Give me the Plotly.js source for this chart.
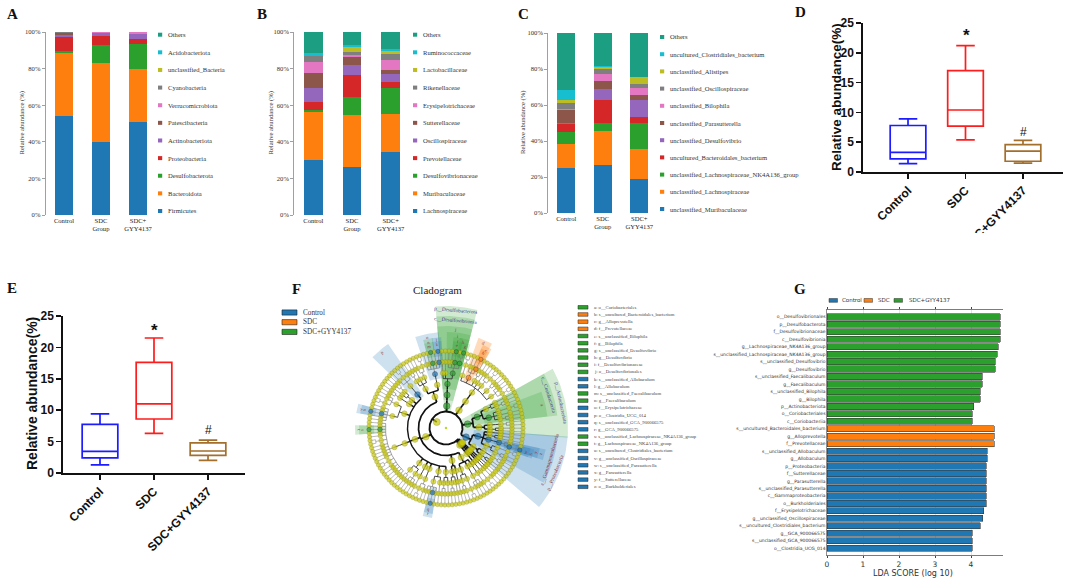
<!DOCTYPE html>
<html><head><meta charset="utf-8">
<script src="https://cdn.plot.ly/plotly-3.0.1.min.js"></script>
<style>html,body{margin:0;padding:0;background:#fff}#chart{width:1065px;height:578px}</style>
</head><body><div id="chart"></div><script>
const W=1065,H=578;
const px=x=>x/W, py=y=>1-y/H;
const serif='Liberation Serif, Times New Roman, serif';
const sans='Liberation Sans, Arial, sans-serif';
const dv='DejaVu Sans, sans-serif';

// ---------- Panels A-C : stacked relative abundance ----------
const groups=['Control','SDC Group','SDC+ GYY4137'];
const groupTicks=['Control','SDC<br>Group','SDC+<br>GYY4137'];
const pctTicks=[0,20,40,60,80,100];
const pctLabels=['0%','20%','40%','60%','80%','100%'];
const stackColors=['#1f77b4','#ff7f0e','#2ca02c','#d62728','#9467bd','#8c564b','#e377c2','#7f7f7f','#bcbd22','#17becf','#1b9e82'];

const phylumNames=['Firmicutes','Bacteroidota','Desulfobacterota','Proteobacteria','Actinobacteriota','Patescibacteria','Verrucomicrobiota','Cyanobacteria','unclassified_Bacteria','Acidobacteriota','Others'];
const phylumControl=[54.2,34.5,0.8,7.8,0.9,1.4,0.1,0.2,0.05,0.05,0.0];
const phylumSDC=[40.0,43.3,9.8,4.7,1.7,0.2,0.2,0.05,0.02,0.02,0.01];
const phylumGYY=[50.9,28.7,14.0,2.6,2.5,0.1,1.1,0.05,0.02,0.02,0.01];

const familyNames=['Lachnospiraceae','Muribaculaceae','Desulfovibrionaceae','Prevotellaceae','Oscillospiraceae','Sutterellaceae','Erysipelotrichaceae','Rikenellaceae','Lactobacillaceae','Ruminococcaceae','Others'];
const familyControl=[30.0,26.4,0.9,4.5,7.8,8.0,6.0,3.1,0.2,1.8,11.3];
const familySDC=[26.0,28.5,10.0,11.9,5.4,4.6,1.2,1.5,2.8,0.8,7.3];
const familyGYY=[34.2,20.9,14.4,3.2,4.2,2.6,5.0,3.3,1.8,0.9,9.5];

const speciesNames=['unclassified_Muribaculaceae','unclassified_Lachnospiraceae','unclassified_Lachnospiraceae_NK4A136_group','uncultured_Bacteroidales_bacterium','unclassified_Desulfovibrio','unclassified_Parasutterella','unclassified_Bilophila','unclassified_Oscillospiraceae','unclassified_Alistipes','uncultured_Clostridiales_bacterium','Others'];
const speciesControl=[25.0,13.5,6.5,4.4,0.6,7.4,0.6,3.0,2.0,5.5,31.5];
const speciesSDC=[26.5,19.2,4.3,13.0,5.9,4.6,3.7,2.8,1.1,0.4,18.5];
const speciesGYY=[19.1,16.5,14.4,3.3,9.7,2.4,4.0,2.5,3.5,0.3,24.3];

// ---------- Panels D-E : box plots ----------
const boxGroups=['Control','SDC','SDC+GYY4137'];
const boxColors=['#1c1cff','#ff1c1c','#a36f2d'];
const dMin=[1.4,5.4,1.5], dQ1=[2.2,7.7,1.8], dMed=[3.3,10.4,3.5], dQ3=[7.8,17.0,4.6], dMax=[8.9,21.2,5.3];
const eMin=[1.3,6.3,2.0], eQ1=[2.4,8.6,2.8], eMed=[3.45,11.0,3.5], eQ3=[7.75,17.6,4.8], eMax=[9.4,21.5,5.25];

// ---------- Panel G : LDA ----------
const ldaGroupNames=['Control','SDC','SDC+GYY4137'];
const ldaColors=['#1f77b4','#ff7f0e','#2ca02c'];
const ldaLabels=['o__Desulfovibrionales','p__Desulfobacterota','f__Desulfovibrionaceae','c__Desulfovibrionia','g__Lachnospiraceae_NK4A136_group','s__unclassified_Lachnospiraceae_NK4A136_group','s__unclassified_Desulfovibrio','g__Desulfovibrio','s__unclassified_Faecalibaculum','g__Faecalibaculum','s__unclassified_Bilophila','g__Bilophila','p__Actinobacteriota','o__Coriobacteriales','c__Coriobacteriia','s__uncultured_Bacteroidales_bacterium','g__Alloprevotella','f__Prevotellaceae','s__unclassified_Allobaculum','g__Allobaculum','p__Proteobacteria','f__Sutterellaceae','g__Parasutterella','s__unclassified_Parasutterella','c__Gammaproteobacteria','o__Burkholderiales','f__Erysipelotrichaceae','g__unclassified_Oscillospiraceae','s__uncultured_Clostridiales_bacterium','g__GCA_900066575','s__unclassified_GCA_900066575','o__Clostridia_UCG_014'];
const ldaScores=[4.81,4.81,4.81,4.81,4.75,4.73,4.68,4.68,4.31,4.31,4.25,4.25,4.07,4.03,4.03,4.64,4.64,4.64,4.45,4.45,4.43,4.42,4.42,4.42,4.42,4.43,4.35,4.33,4.26,4.03,4.03,4.03];
const ldaGroup=[2,2,2,2,2,2,2,2,2,2,2,2,2,2,2,1,1,1,0,0,0,0,0,0,0,0,0,0,0,0,0,0];

// ---------- Panel F : cladogram topology ----------
// phylum -> classes -> orders -> families -> genera (number = species count)
const cladoTree=[
  [ [ [[1],[1]], [[1,1]] ], [ [[1,1],[2]], [[1,1]], [[1],[1]], [[1]] ] ],               // Proteobacteria
  [ [ [[1],[1]], [[1,1]] ], [ [[1,1],[1],[2]], [[1,1],[1]] ] ],                          // Actinobacteriota
  [ [ [ [2,1,1],[1,1],[2,1],[1],[1,1],[1,1,1],[2] ] ] ],                                  // Bacteroidota
  [ [ [ [2,1,1,1],[1],[1] ] ] ],                                                          // Desulfobacterota
  [ [ [[1,1,1,1,1]], [[2,1],[1],[1,1]] ],                                                 // Firmicutes
    [ [[1,2,1]], [[1,1],[1]], [[1,1]], [[1,1,2],[1,1,1,1,1]],
      [[1,1,1,1,1,2,1,1,1,1,1,2,1,1,1,1,1]], [[1,1],[1,1,1]], [[1]], [[2,1]],
      [[1,1,1,1],[1]], [[1,1],[1]] ],
    [ [[1,1],[1]], [[1]] ],
    [ [[1,1],[2]], [[1,1,1]], [[1]] ] ],
  [ [ [[2]] ] ], [ [ [[1]] ] ], [ [ [[1]] ] ], [ [ [[1]] ] ]
];
const cladoMarks=[
 {path:[0],grp:0,text:'p__Proteobacteria'},{path:[0,1],grp:0,text:'c__Gammaproteobacteria'},
 {path:[0,1,1],grp:0,text:'z'},{path:[0,1,1,0],grp:0,text:'y'},{path:[0,1,1,0,0],grp:0,text:'x'},{path:[0,1,1,0,0,0],grp:0,text:'w'},
 {path:[1],grp:2,text:'p__Actinobacteriota'},{path:[1,1],grp:2,text:'c__Coriobacteriia'},{path:[1,1,0],grp:2,text:'a'},
 {path:[2,0,0,5],grp:1,text:'d'},{path:[2,0,0,5,0],grp:1,text:'c'},{path:[2,0,0,5,0,0],grp:1,text:'b'},
 {path:[3],grp:2,text:'p__Desulfobacterota'},{path:[3,0],grp:2,text:'c__Desulfovibrionia'},
 {path:[3,0,0],grp:2,text:'j'},{path:[3,0,0,0],grp:2,text:'i'},{path:[3,0,0,0,0],grp:2,text:'h'},{path:[3,0,0,0,0,0],grp:2,text:'g'},
 {path:[3,0,0,0,1],grp:2,text:'f'},{path:[3,0,0,0,1,0],grp:2,text:'e'},
 {path:[4,0,0,0],grp:0,text:'o'},{path:[4,0,0,0,0],grp:0,text:'l'},{path:[4,0,0,0,0,0],grp:0,text:'k'},
 {path:[4,0,0,0,2],grp:2,text:'n'},{path:[4,0,0,0,2,0],grp:2,text:'m'},
 {path:[4,1,0],grp:0,text:'p'},
 {path:[4,1,3,1,2],grp:0,text:'v'},{path:[4,1,3,1,2,0],grp:0,text:'u'},
 {path:[4,1,4,0,2],grp:2,text:'t'},{path:[4,1,4,0,2,0],grp:2,text:'s'},
 {path:[4,1,8,0,2],grp:0,text:'r'},{path:[4,1,8,0,2,0],grp:0,text:'q'}
];
const cladoLegend=['a: o__Coriobacteriales','b: s__uncultured_Bacteroidales_bacterium','c: g__Alloprevotella','d: f__Prevotellaceae','e: s__unclassified_Bilophila','f: g__Bilophila','g: s__unclassified_Desulfovibrio','h: g__Desulfovibrio','i: f__Desulfovibrionaceae','j: o__Desulfovibrionales','k: s__unclassified_Allobaculum','l: g__Allobaculum','m: s__unclassified_Faecalibaculum','n: g__Faecalibaculum','o: f__Erysipelotrichaceae','p: o__Clostridia_UCG_014','q: s__unclassified_GCA_900066575','r: g__GCA_900066575','s: s__unclassified_Lachnospiraceae_NK4A136_group','t: g__Lachnospiraceae_NK4A136_group','u: s__uncultured_Clostridiales_bacterium','v: g__unclassified_Oscillospiraceae','w: s__unclassified_Parasutterella','x: g__Parasutterella','y: f__Sutterellaceae','z: o__Burkholderiales'];
const cladoLegendGrp=[2,1,1,1,2,2,2,2,2,2,0,0,2,2,0,0,0,0,2,2,0,0,0,0,0,0];

// =================== build ===================
const traces=[], ann=[], shapes=[];
const layout={width:W,height:H,autosize:false,margin:{l:0,r:0,t:0,b:0},paper_bgcolor:'#fff',plot_bgcolor:'rgba(0,0,0,0)',
  showlegend:false,barmode:'stack',font:{family:serif,size:7,color:'#222'},annotations:ann,shapes:shapes};

function A(o){ann.push(Object.assign({xref:'paper',yref:'paper',showarrow:false},o));}
function txt(x,y,t,font,xa,extra){A(Object.assign({x:px(x),y:py(y),text:t,font:font,xanchor:xa||'left',yanchor:'middle'},extra||{}));}
function rect(x0,y0,x1,y1,fill,line,lw){shapes.push({type:'rect',xref:'paper',yref:'paper',x0:px(x0),x1:px(x1),y0:py(y1),y1:py(y0),fillcolor:fill,line:{color:line||fill,width:lw||0},layer:'above'});}

// stacked panels
const stackPanels=[
 {ax:'',names:phylumNames,vals:[phylumControl,phylumSDC,phylumGYY],xd:[45.5,156.5],yd:[32,215],legX:158,legY0:211,legDy:17.63,title:21},
 {ax:'2',names:familyNames,vals:[familyControl,familySDC,familyGYY],xd:[294,410],yd:[32,215],legX:413,legY0:211,legDy:17.63,title:270},
 {ax:'3',names:speciesNames,vals:[speciesControl,speciesSDC,speciesGYY],xd:[548,657.5],yd:[33,213],legX:660,legY0:209,legDy:17.2,title:523}
];
stackPanels.forEach(p=>{
  p.names.forEach((nm,k)=>{
    traces.push({type:'bar',xaxis:'x'+p.ax,yaxis:'y'+p.ax,x:groups,y:p.vals.map(v=>v[k]),width:0.49,
      marker:{color:stackColors[k],line:{width:0}},name:nm,hoverinfo:'skip'});
    const yy=p.legY0-k*p.legDy;
    rect(p.legX,yy-2,p.legX+4.2,yy+2,stackColors[k]);
    txt(p.legX+8,yy,nm,{family:serif,size:6.6,color:'#333'});
  });
  layout['xaxis'+p.ax]={domain:[px(p.xd[0]),px(p.xd[1])],anchor:'y'+p.ax,type:'category',categoryorder:'array',categoryarray:groups,
    tickvals:groups,ticktext:groupTicks,tickangle:0,showline:false,ticks:'',showgrid:false,zeroline:false,
    tickfont:{family:serif,size:6.6,color:'#222'},fixedrange:true};
  layout['yaxis'+p.ax]={domain:[py(p.yd[1]),py(p.yd[0])],anchor:'x'+p.ax,range:[0,100],tickmode:'array',tickvals:pctTicks,ticktext:pctLabels,
    showline:true,linecolor:'#888',linewidth:0.8,ticks:'outside',ticklen:3,tickcolor:'#888',tickwidth:0.8,showgrid:false,zeroline:false,
    tickfont:{family:serif,size:6.6,color:'#333'},fixedrange:true};
  txt(p.title,(p.yd[0]+p.yd[1])/2,'Relative abundance (%)',{family:serif,size:6.6,color:'#333'},'center',{textangle:-90});
});

// box panels
const boxPanels=[
 {ax:'4',mn:dMin,q1:dQ1,md:dMed,q3:dQ3,mx:dMax,xd:[863,1063],xr:[-0.783,2.696],yd:[23,172],w:0.62,title:[836,97],ts:13.5,star:[966,36],hash:[1023,132]},
 {ax:'5',mn:eMin,q1:eQ1,md:eMed,q3:eQ3,mx:eMax,xd:[63,245],xr:[-0.685,2.685],yd:[316,473],w:0.66,title:[32,394],ts:14,star:[154,330],hash:[208,430]}
];
boxPanels.forEach(p=>{
  boxGroups.forEach((g,i)=>traces.push({type:'box',xaxis:'x'+p.ax,yaxis:'y'+p.ax,x:[i],q1:[p.q1[i]],median:[p.md[i]],q3:[p.q3[i]],
    lowerfence:[p.mn[i]],upperfence:[p.mx[i]],width:p.w,whiskerwidth:0.52,line:{color:boxColors[i],width:1.7},
    fillcolor:'rgba(255,255,255,0)',boxpoints:false,hoverinfo:'skip',name:g}));
  const tf={family:sans,size:12,weight:'bold',color:'#111'};
  layout['xaxis'+p.ax]={domain:[px(p.xd[0]),px(p.xd[1])],anchor:'y'+p.ax,range:p.xr,tickvals:[0,1,2],ticktext:boxGroups,tickangle:-45,
    showline:true,linecolor:'#111',linewidth:1.7,ticks:'outside',ticklen:5,tickwidth:1.7,tickcolor:'#111',showgrid:false,zeroline:false,tickfont:tf,fixedrange:true};
  layout['yaxis'+p.ax]={domain:[py(p.yd[1]),py(p.yd[0])],anchor:'x'+p.ax,range:[0,25],tickvals:[0,5,10,15,20,25],
    showline:true,linecolor:'#111',linewidth:1.7,ticks:'outside',ticklen:5,tickwidth:1.7,tickcolor:'#111',showgrid:false,zeroline:false,tickfont:tf,fixedrange:true};
  txt(p.title[0],p.title[1],'Relative abundance(%)',{family:sans,size:p.ts,weight:'bold',color:'#111'},'center',{textangle:-90});
  txt(p.star[0],p.star[1],'*',{family:sans,size:17,weight:'bold',color:'#111'},'center');
  txt(p.hash[0],p.hash[1],'#',{family:sans,size:12,color:'#111'},'center');
});

// LDA panel G
ldaGroupNames.forEach((g,gi)=>{
  const ys=[],xs=[];
  ldaScores.forEach((s,i)=>{if(ldaGroup[i]===gi){ys.push(i);xs.push(s);}});
  traces.push({type:'bar',orientation:'h',xaxis:'x7',yaxis:'y7',x:xs,y:ys,width:0.84,
    marker:{color:ldaColors[gi],line:{color:'#3a3a3a',width:0.6}},hoverinfo:'skip',name:g});
});
layout.xaxis7={domain:[px(827),px(1003)],anchor:'y7',range:[0,4.889],tickvals:[0,1,2,3,4],showgrid:true,gridcolor:'#d0d0d0',gridwidth:0.6,
  showline:true,linecolor:'#444',linewidth:0.7,mirror:'ticks',ticks:'outside',ticklen:2,tickcolor:'#444',zeroline:false,
  tickfont:{family:dv,size:7.5,color:'#333'},fixedrange:true};
layout.yaxis7={domain:[py(555),py(310)],anchor:'x7',range:[31.92,-0.92],tickvals:ldaLabels.map((l,i)=>i),ticktext:ldaLabels,
  showline:true,linecolor:'#444',linewidth:0.6,ticks:'',showgrid:false,zeroline:false,tickfont:{family:dv,size:4.5,color:'#333'},fixedrange:true};
txt(913,573.5,'LDA SCORE (log 10)',{family:dv,size:8,color:'#333'},'center');
[[829,840,'Control'],[864,876,'SDC'],[894,907,'SDC+GYY4137']].forEach((l,i)=>{
  rect(l[0],298.5,l[0]+8.5,302.3,ldaColors[i],'#333',0.5);
  txt(l[1],300.4,l[2],{family:dv,size:5.5,color:'#333'});
});

// ---------- cladogram ----------
const deg=Math.PI/180;
const cx=(r,a)=>r*Math.cos(a*deg), cy=(r,a)=>r*Math.sin(a*deg);
let nLeaf=0; const allNodes=[]; const byPath={};
function build(spec,depth,path){
  const n={depth:depth,path:path,kids:[]};
  if(depth===6){n.leaf=nLeaf++;}
  else if(depth===5){for(let i=0;i<spec;i++)n.kids.push(build(null,6,path.concat(i)));}
  else spec.forEach((c,i)=>n.kids.push(build(c,depth+1,path.concat(i))));
  allNodes.push(n); byPath[path.join(',')]=n; return n;
}
const root=build(cladoTree,0,[]);
const stepA=360/nLeaf, startA=-40;
function place(n){
  if(n.depth===6){n.a=startA+(n.leaf+0.5)*stepA;n.l0=n.l1=n.leaf;}
  else{n.kids.forEach(place);n.a=(n.kids[0].a+n.kids[n.kids.length-1].a)/2;n.l0=n.kids[0].l0;n.l1=n.kids[n.kids.length-1].l1;}
}
place(root);
const Rd=d=>11*(d+1);
const ROUT=[0,122,112,102,96,91,87];
const grpFill=['rgba(31,119,180,0.22)','rgba(255,127,14,0.28)','rgba(44,160,44,0.22)'];
const grpNode=['#1f77b4','#ff7f0e','#2ca02c'];
const markOf={}; cladoMarks.forEach(m=>markOf[m.path.join(',')]=m);

// wedges
cladoMarks.slice().sort((a,b)=>a.path.length-b.path.length).forEach(m=>{
  const n=byPath[m.path.join(',')];
  let a0=startA+n.l0*stepA-0.3, a1=startA+(n.l1+1)*stepA+0.3;
  if(a1-a0<6){const c=(a0+a1)/2;a0=c-3;a1=c+3;}
  const rIn=Rd(n.depth)-5, rOut=ROUT[n.depth];
  const xs=[],ys=[];
  for(let a=a0;a<=a1+1e-6;a+=(a1-a0)/20){xs.push(cx(rIn,a));ys.push(cy(rIn,a));}
  for(let a=a1;a>=a0-1e-6;a-=(a1-a0)/20){xs.push(cx(rOut,a));ys.push(cy(rOut,a));}
  traces.push({type:'scatter',mode:'lines',xaxis:'x6',yaxis:'y6',x:xs,y:ys,fill:'toself',fillcolor:grpFill[m.grp],line:{width:0},hoverinfo:'skip'});
  const ac=(a0+a1)/2;
  let ta=90-ac; while(ta>90)ta-=180; while(ta<=-90)ta+=180;
  const named=m.text.length>1;
  const rr=named?rOut-4:rOut-3.5;
  const col=m.path[0]===0?'#8b2b3b':(named?'#3b3b8f':'#8b3a3a');
  ann.push({xref:'x6',yref:'y6',x:cx(rr,ac),y:cy(rr,ac),text:m.text,showarrow:false,textangle:ta,
    font:{family:serif,size:named?5.2:4.6,color:col},xanchor:'center',yanchor:'middle'});
});
// edges
const edgeSty=[{w:1.9,c:'#111'},{w:1.7,c:'#111'},{w:1.4,c:'#151515'},{w:0.9,c:'#333'},{w:0.6,c:'#666'},{w:0.5,c:'#777'}];
const eX=edgeSty.map(()=>[]), eY=edgeSty.map(()=>[]);
allNodes.forEach(n=>{
  if(!n.kids.length)return;
  const d=n.depth, r0=Rd(d), rm=r0+5.5, r1=Rd(d+1), X=eX[d], Y=eY[d];
  X.push(cx(r0,n.a),cx(rm,n.a),null); Y.push(cy(r0,n.a),cy(rm,n.a),null);
  const lo=Math.min(n.kids[0].a,n.a), hi=Math.max(n.kids[n.kids.length-1].a,n.a);
  if(hi-lo>0.01){for(let a=lo;a<hi;a+=1.5){X.push(cx(rm,a));Y.push(cy(rm,a));}X.push(cx(rm,hi),null);Y.push(cy(rm,hi),null);}
  n.kids.forEach(k=>{X.push(cx(rm,k.a),cx(r1,k.a),null);Y.push(cy(rm,k.a),cy(r1,k.a),null);});
});
edgeSty.forEach((s,d)=>traces.push({type:'scatter',mode:'lines',xaxis:'x6',yaxis:'y6',x:eX[d],y:eY[d],line:{color:s.c,width:s.w},hoverinfo:'skip'}));
// nodes
const nodeSize=[7,6.6,6.1,5.6,5.1,4.7,4.3];
const ordered=allNodes.slice().sort((a,b)=>(markOf[a.path.join(',')]?1:0)-(markOf[b.path.join(',')]?1:0));
traces.push({type:'scatter',mode:'markers',xaxis:'x6',yaxis:'y6',
  x:ordered.map(n=>cx(Rd(n.depth),n.a)),y:ordered.map(n=>cy(Rd(n.depth),n.a)),
  marker:{size:ordered.map(n=>nodeSize[n.depth]),
    color:ordered.map(n=>{const m=markOf[n.path.join(',')];return m?grpNode[m.grp]:'#c9c90e';}),
    line:{width:0.5,color:ordered.map(n=>markOf[n.path.join(',')]?'#222':'#8a8a10')}},hoverinfo:'skip',cliponaxis:false});
traces.push({type:'scatter',mode:'markers',xaxis:'x6',yaxis:'y6',x:[0],y:[0],marker:{size:2.5,color:'#b8d82a'},hoverinfo:'skip'});
layout.xaxis6={domain:[px(330),px(572)],anchor:'y6',range:[-116,126],visible:false,fixedrange:true};
layout.yaxis6={domain:[py(560),py(295)],anchor:'x6',range:[-132,133],visible:false,fixedrange:true};

// clade group legend
ldaGroupNames.forEach((g,i)=>{
  const yy=312.5+i*9.7;
  rect(282,yy-2.6,297,yy+2.6,grpNode[i],'#222',0.6);
  txt(301,yy,g,{family:serif,size:7.2,color:'#333'});
});
// letter legend
cladoLegend.forEach((t,i)=>{
  const yy=307.3+i*7.18;
  rect(578,yy-1.8,588,yy+1.8,grpNode[cladoLegendGrp[i]],'#222',0.5);
  txt(591.5,yy,t,{family:serif,size:4.7,color:'#444'});
});
txt(437,290,'Cladogram',{family:serif,size:11,color:'#222'},'center');

// cut band below first row (reference is cropped there)
shapes.push({type:'rect',xref:'paper',yref:'paper',x0:0,x1:1,y0:py(282),y1:py(233),fillcolor:'#fff',line:{width:0},layer:'above'});

// panel letters
const pl={family:serif,size:15,weight:'bold',color:'#111'};
[['A',12,14],['B',262,14],['C',523,14],['D',800,12],['E',12,288],['F',296,289],['G',800,289]].forEach(l=>txt(l[1],l[2],l[0],pl,'center'));

Plotly.newPlot('chart',traces,layout,{staticPlot:true,displayModeBar:false});
</script></body></html>
